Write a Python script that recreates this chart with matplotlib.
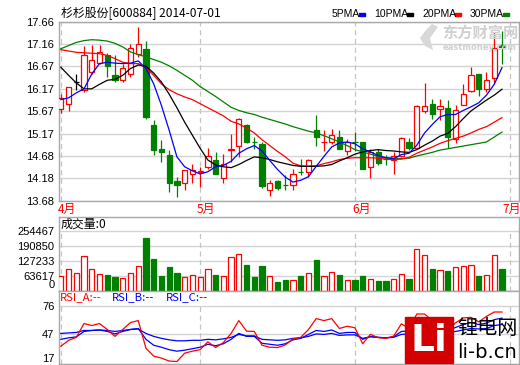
import matplotlib
matplotlib.use("Agg")
import matplotlib.pyplot as plt
from matplotlib.patches import Rectangle, Polygon

plt.rcParams['font.family'] = ['Noto Sans CJK SC', 'DejaVu Sans']

stock_title = "杉杉股份[600884] 2014-07-01"

opens = [15.73, 15.84, 16.32, 16.14, 16.54, 16.74, 16.93, 16.47, 16.37, 16.49,
         16.95, 17.06, 15.36, 14.83, 14.71, 14.12, 14.07, 14.28, 14.32, 14.43,
         14.60, 14.18, 14.81, 14.91, 15.36, 15.00, 14.95, 13.93, 14.13, 14.05,
         14.04, 14.33, 14.32, 15.25, 14.98, 14.99, 15.11, 14.78, 15.00, 14.99,
         14.43, 14.77, 14.62, 14.60, 14.68, 14.98, 14.86, 15.68, 15.84, 15.73,
         15.75, 15.05, 15.80, 16.12, 16.49, 16.17, 16.42, 17.15]
highs = [16.05, 16.21, 16.50, 17.13, 17.15, 17.15, 16.97, 16.91, 16.73, 17.17,
         17.55, 17.23, 15.47, 15.04, 14.82, 14.22, 14.37, 14.50, 14.44, 14.86,
         14.77, 14.73, 15.16, 15.52, 15.38, 15.10, 14.99, 14.15, 14.14, 14.25,
         14.40, 14.62, 14.62, 15.58, 15.26, 15.28, 15.25, 15.06, 15.21, 15.00,
         14.84, 14.84, 14.69, 14.77, 15.10, 15.07, 15.80, 16.30, 15.95, 15.95,
         15.92, 15.80, 16.27, 16.65, 16.51, 16.54, 17.43, 17.46]
lows = [15.64, 15.68, 16.14, 16.10, 16.50, 16.71, 16.43, 16.32, 16.32, 16.43,
        16.87, 15.51, 14.70, 14.55, 13.89, 13.76, 13.92, 14.07, 13.98, 14.40,
        14.27, 14.07, 14.55, 14.66, 14.97, 14.84, 13.96, 13.79, 13.93, 13.92,
        13.92, 14.25, 14.21, 14.91, 14.80, 14.95, 14.84, 14.69, 14.80, 14.38,
        14.20, 14.47, 14.49, 14.28, 14.66, 14.81, 14.85, 15.63, 15.51, 15.47,
        14.85, 14.97, 15.80, 16.10, 16.00, 16.10, 16.30, 16.73]
closes = [15.97, 16.20, 16.32, 16.93, 16.80, 16.98, 16.68, 16.37, 16.63, 17.08,
          17.17, 15.55, 14.82, 14.76, 14.09, 14.03, 14.37, 14.37, 14.35, 14.68,
          14.28, 14.50, 14.83, 15.50, 14.99, 14.99, 14.01, 14.08, 13.96, 14.04,
          14.29, 14.32, 14.60, 15.10, 14.99, 15.14, 14.84, 14.99, 14.99, 14.40,
          14.77, 14.52, 14.61, 14.67, 15.07, 14.85, 15.78, 15.78, 15.62, 15.78,
          15.10, 15.69, 16.05, 16.48, 16.17, 16.37, 17.08, 17.10]
volumes = [64, 92, 75, 148, 92, 71, 68, 59, 54, 75,
           106, 226, 136, 64, 102, 75, 58, 67, 59, 92,
           68, 62, 143, 156, 110, 57, 106, 64, 35, 44,
           47, 64, 75, 131, 64, 81, 68, 47, 47, 64,
           51, 42, 42, 49, 71, 51, 177, 151, 93, 89,
           86, 100, 106, 109, 64, 67, 151, 93]
volumes = [v * 1000 for v in volumes]

ma5 = [15.93, 15.97, 16.08, 16.17, 16.50, 16.73, 16.76, 16.74, 16.73, 16.74,
       16.79, 16.62, 16.28, 15.80, 15.25, 14.66, 14.44, 14.35, 14.28, 14.33,
       14.44, 14.47, 14.56, 14.74, 14.84, 14.91, 14.79, 14.58, 14.38, 14.21,
       14.10, 14.14, 14.22, 14.45, 14.67, 14.88, 14.97, 14.99, 14.95, 14.84,
       14.77, 14.69, 14.64, 14.62, 14.71, 14.74, 14.92, 15.19, 15.38, 15.55,
       15.60, 15.60, 15.69, 15.77, 15.86, 16.03, 16.27, 16.64]
ma10 = [16.65, 16.47, 16.30, 16.17, 16.17, 16.27, 16.36, 16.38, 16.47, 16.62,
        16.70, 16.67, 16.52, 16.32, 16.05, 15.75, 15.43, 15.14, 14.85, 14.59,
        14.48, 14.44, 14.42, 14.49, 14.58, 14.66, 14.64, 14.60, 14.55, 14.51,
        14.47, 14.45, 14.45, 14.45, 14.46, 14.49, 14.57, 14.64, 14.72, 14.77,
        14.80, 14.82, 14.80, 14.79, 14.77, 14.76, 14.82, 14.92, 15.01, 15.12,
        15.18, 15.33, 15.51, 15.68, 15.80, 15.92, 16.03, 16.16]
ma20 = [17.04, 17.01, 16.98, 16.97, 16.96, 16.95, 16.91, 16.84, 16.76, 16.73,
        16.73, 16.64, 16.47, 16.28, 16.15, 16.06, 15.99, 15.93, 15.84, 15.75,
        15.66, 15.57, 15.45, 15.39, 15.30, 15.19, 15.04, 14.91, 14.78, 14.66,
        14.52, 14.46, 14.45, 14.46, 14.51, 14.55, 14.60, 14.63, 14.64, 14.64,
        14.64, 14.63, 14.61, 14.60, 14.61, 14.65, 14.74, 14.81, 14.88, 14.96,
        15.02, 15.07, 15.12, 15.19, 15.27, 15.33, 15.43, 15.53]
ma30 = [17.06, 17.13, 17.20, 17.24, 17.26, 17.25, 17.23, 17.18, 17.10, 16.99,
        16.93, 16.88, 16.82, 16.76, 16.68, 16.58, 16.47, 16.36, 16.22, 16.11,
        16.00, 15.88, 15.76, 15.69, 15.64, 15.60, 15.54, 15.49, 15.44, 15.39,
        15.33, 15.28, 15.23, 15.19, 15.13, 15.06, 14.99, 14.91, 14.82, 14.77,
        14.72, 14.67, 14.64, 14.63, 14.62, 14.63, 14.68, 14.72, 14.76, 14.81,
        14.84, 14.87, 14.90, 14.93, 14.96, 14.99, 15.10, 15.21]

rsi_a = [35, 41, 44, 58, 56, 58, 52, 45, 52, 59,
         61, 33, 25, 23, 20, 19.5, 28, 30, 31.5, 39.5,
         33.7, 38.7, 48, 61, 50.3, 50, 36, 34, 33.7, 36.3,
         42.5, 44, 52, 63, 61, 63, 53, 55.3, 53.7, 37.5,
         47, 43.7, 43, 45.3, 57.7, 53, 67.7, 67.7, 61, 64,
         52, 58.7, 63.7, 64.3, 59.7, 65.3, 69.7, 69.7]
rsi_b = [42, 43.5, 44.5, 50, 51, 51.5, 50, 47.5, 50, 52,
         53, 42, 36, 34, 31.5, 30, 31, 32.5, 34, 37,
         35.5, 37.5, 42, 48, 45, 45, 38, 37, 36, 37.5,
         41.5, 43, 47, 51, 50, 51.5, 48, 49, 49, 42,
         45, 44, 43.5, 44.5, 50, 50.5, 57, 58, 55, 56,
         51, 54, 57, 59, 57, 58.5, 62, 63.5]
rsi_c = [48, 48.5, 49, 51, 51, 51.5, 51, 50, 51, 52,
         52.5, 48, 45, 43, 41.5, 40.5, 40.5, 41, 41, 42,
         41.5, 42.5, 44, 47, 45.5, 45.5, 42, 41.5, 41, 41.5,
         43, 43.5, 45, 47.5, 47, 48, 46, 46.5, 46.5, 43,
         44.5, 44, 43.5, 44, 47, 47.5, 51, 52, 51, 51.5,
         49, 50, 51.5, 53, 52.5, 53, 56, 57]

month_labels = ["4月", "5月", "6月", "7月"]
month_starts = [0, 18, 38, 58]
price_ticks = [17.66, 17.16, 16.67, 16.17, 15.67, 15.17, 14.68, 14.18, 13.68]
vol_ticks = [0, 63617, 127233, 190850, 254467]
rsi_ticks = [17, 47, 76]

RED = "#ff0000"
GREEN = "#008000"
BLUE = "#0000ff"
FRAME = "#a8a8a8"
GRID = "#d4d4d4"
DASH = "#c4c4c4"

W, H = 520, 365
fig = plt.figure(figsize=(W / 100, H / 100), dpi=100)


def px_axes(x0, y0, x1, y1):
    return fig.add_axes([x0 / W, 1 - y1 / H, (x1 - x0) / W, (y1 - y0) / H])


ax = px_axes(58.5, 21.7, 519, 201)
axv = px_axes(58.5, 216.7, 519, 290.5)
axr = px_axes(58.5, 290.5, 519, 364)

for a in (ax, axv, axr):
    a.set_xlim(-0.3, 59.2)
    a.set_xticks([])
    for s in a.spines.values():
        s.set_color(FRAME)
        s.set_linewidth(1.0)
    a.tick_params(axis="y", length=0, pad=3, labelsize=8)
    a.yaxis.grid(True, color=GRID, lw=1.0)
    a.set_axisbelow(True)

# price panel
x = list(range(len(closes)))
ax.set_ylim(13.68, 17.66)
ax.set_yticks(price_ticks)
ax.set_yticklabels(["%.2f" % t for t in price_ticks], family="Liberation Sans")
for ms in month_starts:
    ax.axvline(ms, color=DASH, lw=0.9, ls=(0, (4, 3)), zorder=1)

bw = 0.68
for i in x:
    o, h, l, c = opens[i], highs[i], lows[i], closes[i]
    col = RED if c > o else (GREEN if c < o else "black")
    ax.vlines(i, l, h, color=col, lw=0.9, zorder=3)
    if abs(c - o) < 0.015:
        ax.hlines(c, i - bw / 2, i + bw / 2, color=col, lw=0.9, zorder=4)
    else:
        face = "white" if c > o else col
        ax.add_patch(Rectangle((i - bw / 2, min(o, c)), bw, abs(c - o),
                               facecolor=face, edgecolor=col, lw=0.9, zorder=4))

ax.plot(x, ma30, color=GREEN, lw=0.9, zorder=5)
ax.plot(x, ma20, color=RED, lw=0.9, zorder=5)
ax.plot(x, ma10, color="black", lw=0.9, zorder=5)
ax.plot(x, ma5, color=BLUE, lw=0.9, zorder=5)

for ms, lab in zip(month_starts, month_labels):
    last = ms == month_starts[-1]
    ax.annotate(lab, xy=(ms, 0), xycoords=("data", "axes fraction"),
                xytext=(-7 if last else -3, -2), textcoords="offset pixels",
                ha="left", va="top", color=RED, fontsize=8.6,
                annotation_clip=False)

# volume panel
axv.set_ylim(0, 318085)
axv.set_yticks(vol_ticks)
axv.set_yticklabels([str(t) for t in vol_ticks], family="Liberation Sans")
axv.get_yticklabels()[0].set_va("bottom")
for ms in month_starts:
    axv.vlines(ms, 0, 254467, color=DASH, lw=0.9, ls=(0, (4, 3)), zorder=1)
for i in x:
    up = closes[i] >= opens[i]
    col = RED if up else GREEN
    axv.bar(i, volumes[i], width=bw, facecolor="white" if up else col,
            edgecolor=col, lw=0.9, zorder=3)
axv.text(0.004, 0.985, "成交量:0", transform=axv.transAxes, ha="left", va="top",
         fontsize=8.6, color="black")

# RSI panel
axr.set_ylim(17, 91.5)
axr.set_yticks(rsi_ticks)
axr.set_yticklabels([str(t) for t in rsi_ticks], family="Liberation Sans")
axr.get_yticklabels()[0].set_va("bottom")
for ms in month_starts:
    axr.vlines(ms, 17, 76, color=DASH, lw=0.9, ls=(0, (4, 3)), zorder=1)
axr.plot(x, rsi_c, color=BLUE, lw=0.9, zorder=4)
axr.plot(x, rsi_b, color=BLUE, lw=0.9, zorder=4)
axr.plot(x, rsi_a, color=RED, lw=0.9, zorder=5)

# overlay in pixel coordinates for header texts and watermarks
ov = fig.add_axes([0, 0, 1, 1], zorder=10)
ov.set_xlim(0, W)
ov.set_ylim(H, 0)
ov.axis("off")

ov.text(61, 13, stock_title, fontsize=8.6, va="center", ha="left")
for name, col, tx, rx in [("5PMA", BLUE, 332, 359), ("10PMA", "black", 374, 407),
                          ("20PMA", RED, 422, 455), ("30PMA", GREEN, 470, 503)]:
    ov.text(tx, 14, name, fontsize=7.5, va="center", ha="left", family="Liberation Sans")
    ov.add_patch(Rectangle((rx, 13), 6, 3, color=col))

ov.text(60, 297.5, "RSI_A:--", color=RED, fontsize=8.2, va="center", ha="left")
ov.text(112, 297.5, "RSI_B:--", color=BLUE, fontsize=8.2, va="center", ha="left")
ov.text(166, 297.5, "RSI_C:--", color=BLUE, fontsize=8.2, va="center", ha="left")

# eastmoney watermark
ov.add_patch(Polygon([(432, 24), (438, 27), (430, 38), (433, 50), (425, 46),
                      (420, 38), (426, 30)], closed=True, color="#d8d8d8", lw=0))
ov.text(442, 33, "东方财富网", fontsize=11, fontweight="bold", color="#d0d0d0",
        va="center", ha="left")
ov.text(443, 48, "eastmoney.com", fontsize=6, fontweight="bold", color="#d0d0d0",
        va="center", ha="left", family="DejaVu Sans")

# li-b.cn watermark
ov.add_patch(Rectangle((405, 317), 48, 46, color="#d40000"))
ov.text(429, 341, "Li", fontsize=27, fontweight="bold", color="white",
        ha="center", va="center", family="DejaVu Sans")
ov.text(457, 329, "锂电网", fontsize=14.5, color="black", ha="left", va="center")
ov.text(457, 352, "li-b.cn", fontsize=14, color="black", ha="left", va="center",
        family="DejaVu Sans")

fig.savefig("out.png", dpi=100)
